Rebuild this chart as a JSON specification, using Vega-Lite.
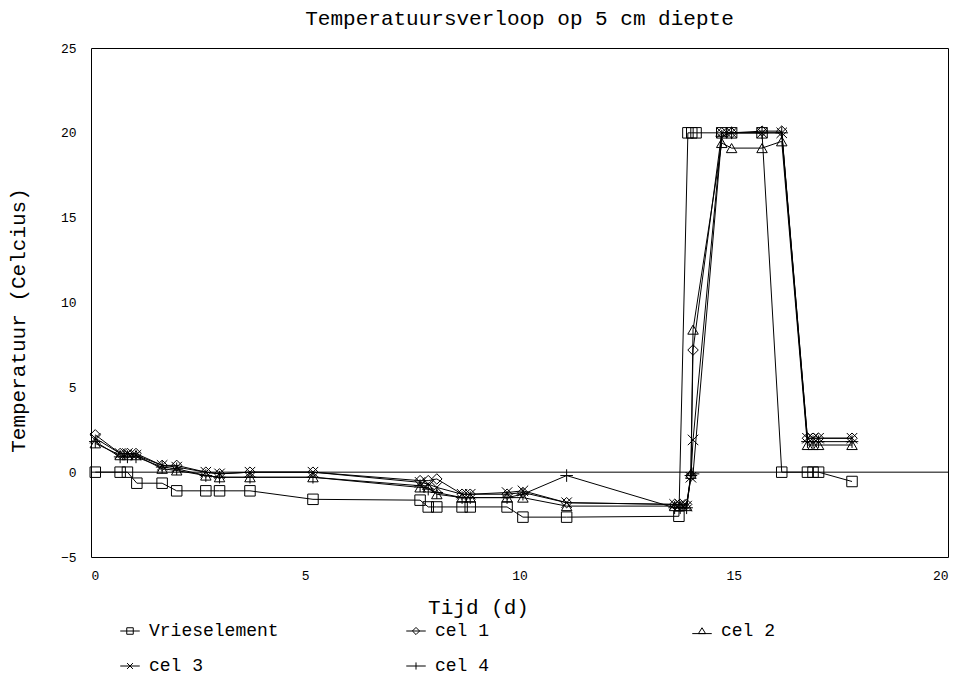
{
  "$schema": "https://vega.github.io/schema/vega-lite/v6.json",
  "width": 857,
  "height": 509,
  "autosize": {"type": "none"},
  "padding": {"left": 91, "top": 48, "right": 12, "bottom": 133},
  "background": "white",
  "title": {"text": "Temperatuursverloop op 5 cm diepte", "font": "Liberation Mono", "fontSize": 21, "fontWeight": "normal", "color": "black", "anchor": "middle", "offset": 13},
  "config": {
    "view": {"stroke": "black", "strokeWidth": 1},
    "axis": {"grid": false, "domain": false, "labelFont": "Liberation Mono", "labelFontSize": 13, "labelColor": "black", "titleFont": "Liberation Mono", "titleFontSize": 21, "titleFontWeight": "normal", "titleColor": "black", "tickColor": "black"}
  },
  "resolve": {"scale": {"shape": "independent"}, "legend": {"shape": "independent"}},
  "datasets": {
    "temps": [
      {"t": 0.1, "T": 0, "s": "Vrieselement"},
      {"t": 0.68, "T": 0, "s": "Vrieselement"},
      {"t": 0.85, "T": 0, "s": "Vrieselement"},
      {"t": 1.07, "T": -0.65, "s": "Vrieselement"},
      {"t": 1.66, "T": -0.65, "s": "Vrieselement"},
      {"t": 2.0, "T": -1.1, "s": "Vrieselement"},
      {"t": 2.68, "T": -1.1, "s": "Vrieselement"},
      {"t": 3.0, "T": -1.1, "s": "Vrieselement"},
      {"t": 3.71, "T": -1.1, "s": "Vrieselement"},
      {"t": 5.18, "T": -1.6, "s": "Vrieselement"},
      {"t": 7.68, "T": -1.65, "s": "Vrieselement"},
      {"t": 7.87, "T": -2.05, "s": "Vrieselement"},
      {"t": 8.07, "T": -2.05, "s": "Vrieselement"},
      {"t": 8.66, "T": -2.05, "s": "Vrieselement"},
      {"t": 8.85, "T": -2.05, "s": "Vrieselement"},
      {"t": 9.71, "T": -2.05, "s": "Vrieselement"},
      {"t": 10.08, "T": -2.65, "s": "Vrieselement"},
      {"t": 11.1, "T": -2.65, "s": "Vrieselement"},
      {"t": 13.72, "T": -2.6, "s": "Vrieselement"},
      {"t": 13.93, "T": 20, "s": "Vrieselement"},
      {"t": 14.02, "T": 20, "s": "Vrieselement"},
      {"t": 14.12, "T": 20, "s": "Vrieselement"},
      {"t": 14.72, "T": 20, "s": "Vrieselement"},
      {"t": 14.95, "T": 20, "s": "Vrieselement"},
      {"t": 15.66, "T": 20, "s": "Vrieselement"},
      {"t": 16.12, "T": 0, "s": "Vrieselement"},
      {"t": 16.72, "T": 0, "s": "Vrieselement"},
      {"t": 16.85, "T": 0, "s": "Vrieselement"},
      {"t": 16.98, "T": 0, "s": "Vrieselement"},
      {"t": 17.76, "T": -0.55, "s": "Vrieselement"},

      {"t": 0.1, "T": 2.2, "s": "cel 1"},
      {"t": 0.68, "T": 1.1, "s": "cel 1"},
      {"t": 0.85, "T": 1.1, "s": "cel 1"},
      {"t": 1.05, "T": 1.1, "s": "cel 1"},
      {"t": 1.66, "T": 0.4, "s": "cel 1"},
      {"t": 2.0, "T": 0.4, "s": "cel 1"},
      {"t": 2.68, "T": 0.0, "s": "cel 1"},
      {"t": 3.0, "T": -0.1, "s": "cel 1"},
      {"t": 3.71, "T": 0.0, "s": "cel 1"},
      {"t": 5.18, "T": 0.0, "s": "cel 1"},
      {"t": 7.68, "T": -0.5, "s": "cel 1"},
      {"t": 7.87, "T": -0.5, "s": "cel 1"},
      {"t": 8.07, "T": -0.4, "s": "cel 1"},
      {"t": 8.66, "T": -1.3, "s": "cel 1"},
      {"t": 8.85, "T": -1.3, "s": "cel 1"},
      {"t": 9.71, "T": -1.3, "s": "cel 1"},
      {"t": 10.08, "T": -1.2, "s": "cel 1"},
      {"t": 11.1, "T": -1.8, "s": "cel 1"},
      {"t": 13.62, "T": -1.9, "s": "cel 1"},
      {"t": 13.75, "T": -1.9, "s": "cel 1"},
      {"t": 13.9, "T": -1.9, "s": "cel 1"},
      {"t": 14.0, "T": -0.2, "s": "cel 1"},
      {"t": 14.05, "T": 7.2, "s": "cel 1"},
      {"t": 14.72, "T": 20.0, "s": "cel 1"},
      {"t": 14.95, "T": 20.0, "s": "cel 1"},
      {"t": 15.66, "T": 20.1, "s": "cel 1"},
      {"t": 16.12, "T": 20.1, "s": "cel 1"},
      {"t": 16.72, "T": 2.0, "s": "cel 1"},
      {"t": 16.85, "T": 2.0, "s": "cel 1"},
      {"t": 16.98, "T": 2.0, "s": "cel 1"},
      {"t": 17.76, "T": 2.0, "s": "cel 1"},

      {"t": 0.1, "T": 1.7, "s": "cel 2"},
      {"t": 0.68, "T": 1.0, "s": "cel 2"},
      {"t": 0.85, "T": 1.0, "s": "cel 2"},
      {"t": 1.05, "T": 1.0, "s": "cel 2"},
      {"t": 1.66, "T": 0.2, "s": "cel 2"},
      {"t": 2.0, "T": 0.1, "s": "cel 2"},
      {"t": 2.68, "T": -0.2, "s": "cel 2"},
      {"t": 3.0, "T": -0.3, "s": "cel 2"},
      {"t": 3.71, "T": -0.3, "s": "cel 2"},
      {"t": 5.18, "T": -0.3, "s": "cel 2"},
      {"t": 7.68, "T": -0.9, "s": "cel 2"},
      {"t": 7.87, "T": -0.9, "s": "cel 2"},
      {"t": 8.07, "T": -1.3, "s": "cel 2"},
      {"t": 8.66, "T": -1.5, "s": "cel 2"},
      {"t": 8.85, "T": -1.5, "s": "cel 2"},
      {"t": 9.71, "T": -1.5, "s": "cel 2"},
      {"t": 10.08, "T": -1.5, "s": "cel 2"},
      {"t": 11.1, "T": -2.0, "s": "cel 2"},
      {"t": 13.62, "T": -2.0, "s": "cel 2"},
      {"t": 13.75, "T": -2.0, "s": "cel 2"},
      {"t": 13.9, "T": -2.0, "s": "cel 2"},
      {"t": 14.0, "T": -0.1, "s": "cel 2"},
      {"t": 14.05, "T": 8.4, "s": "cel 2"},
      {"t": 14.72, "T": 19.4, "s": "cel 2"},
      {"t": 14.95, "T": 19.1, "s": "cel 2"},
      {"t": 15.66, "T": 19.1, "s": "cel 2"},
      {"t": 16.12, "T": 19.5, "s": "cel 2"},
      {"t": 16.72, "T": 1.6, "s": "cel 2"},
      {"t": 16.85, "T": 1.6, "s": "cel 2"},
      {"t": 16.98, "T": 1.6, "s": "cel 2"},
      {"t": 17.76, "T": 1.6, "s": "cel 2"},

      {"t": 0.1, "T": 2.0, "s": "cel 3"},
      {"t": 0.68, "T": 1.1, "s": "cel 3"},
      {"t": 0.85, "T": 1.1, "s": "cel 3"},
      {"t": 1.05, "T": 1.0, "s": "cel 3"},
      {"t": 1.66, "T": 0.4, "s": "cel 3"},
      {"t": 2.0, "T": 0.3, "s": "cel 3"},
      {"t": 2.68, "T": 0.0, "s": "cel 3"},
      {"t": 3.0, "T": -0.1, "s": "cel 3"},
      {"t": 3.71, "T": 0.0, "s": "cel 3"},
      {"t": 5.18, "T": 0.0, "s": "cel 3"},
      {"t": 7.68, "T": -0.6, "s": "cel 3"},
      {"t": 7.87, "T": -0.7, "s": "cel 3"},
      {"t": 8.07, "T": -0.9, "s": "cel 3"},
      {"t": 8.66, "T": -1.3, "s": "cel 3"},
      {"t": 8.85, "T": -1.3, "s": "cel 3"},
      {"t": 9.71, "T": -1.2, "s": "cel 3"},
      {"t": 10.08, "T": -1.1, "s": "cel 3"},
      {"t": 11.1, "T": -1.8, "s": "cel 3"},
      {"t": 13.62, "T": -1.9, "s": "cel 3"},
      {"t": 13.75, "T": -1.9, "s": "cel 3"},
      {"t": 13.9, "T": -2.0, "s": "cel 3"},
      {"t": 14.0, "T": -0.3, "s": "cel 3"},
      {"t": 14.05, "T": 1.9, "s": "cel 3"},
      {"t": 14.72, "T": 20.0, "s": "cel 3"},
      {"t": 14.95, "T": 20.0, "s": "cel 3"},
      {"t": 15.66, "T": 20.0, "s": "cel 3"},
      {"t": 16.12, "T": 20.0, "s": "cel 3"},
      {"t": 16.72, "T": 2.0, "s": "cel 3"},
      {"t": 16.85, "T": 2.0, "s": "cel 3"},
      {"t": 16.98, "T": 2.0, "s": "cel 3"},
      {"t": 17.76, "T": 2.0, "s": "cel 3"},

      {"t": 0.1, "T": 1.8, "s": "cel 4"},
      {"t": 0.68, "T": 0.9, "s": "cel 4"},
      {"t": 0.85, "T": 0.9, "s": "cel 4"},
      {"t": 1.05, "T": 0.9, "s": "cel 4"},
      {"t": 1.66, "T": 0.3, "s": "cel 4"},
      {"t": 2.0, "T": 0.2, "s": "cel 4"},
      {"t": 2.68, "T": -0.2, "s": "cel 4"},
      {"t": 3.0, "T": -0.3, "s": "cel 4"},
      {"t": 3.71, "T": -0.3, "s": "cel 4"},
      {"t": 5.18, "T": -0.3, "s": "cel 4"},
      {"t": 7.68, "T": -0.8, "s": "cel 4"},
      {"t": 7.87, "T": -1.0, "s": "cel 4"},
      {"t": 8.07, "T": -1.2, "s": "cel 4"},
      {"t": 8.66, "T": -1.5, "s": "cel 4"},
      {"t": 8.85, "T": -1.5, "s": "cel 4"},
      {"t": 9.71, "T": -1.5, "s": "cel 4"},
      {"t": 10.08, "T": -1.3, "s": "cel 4"},
      {"t": 11.1, "T": -0.2, "s": "cel 4"},
      {"t": 13.62, "T": -2.1, "s": "cel 4"},
      {"t": 13.75, "T": -2.1, "s": "cel 4"},
      {"t": 13.9, "T": -2.1, "s": "cel 4"},
      {"t": 14.0, "T": -0.2, "s": "cel 4"},
      {"t": 14.05, "T": -0.1, "s": "cel 4"},
      {"t": 14.72, "T": 19.8, "s": "cel 4"},
      {"t": 14.95, "T": 20.0, "s": "cel 4"},
      {"t": 15.66, "T": 20.0, "s": "cel 4"},
      {"t": 16.12, "T": 20.0, "s": "cel 4"},
      {"t": 16.72, "T": 1.8, "s": "cel 4"},
      {"t": 16.85, "T": 1.8, "s": "cel 4"},
      {"t": 16.98, "T": 1.8, "s": "cel 4"},
      {"t": 17.76, "T": 1.8, "s": "cel 4"}
    ]
  },
  "layer": [
    {
      "data": {"values": [{"zero": 0}]},
      "mark": {"type": "rule", "color": "black", "strokeWidth": 1},
      "encoding": {"y": {"field": "zero", "type": "quantitative", "scale": {"domain": [-5, 25], "nice": false, "zero": false}}}
    },
    {
      "data": {"name": "temps"},
      "mark": {"type": "line", "color": "black", "strokeWidth": 1},
      "encoding": {
        "x": {"field": "t", "type": "quantitative", "scale": {"domain": [0, 20], "nice": false}, "axis": {"title": "Tijd (d)", "values": [0, 5, 10, 15, 20], "tickSize": 0, "labelPadding": 12, "titlePadding": 14, "titleX": 387}},
        "y": {"field": "T", "type": "quantitative", "scale": {"domain": [-5, 25], "nice": false, "zero": false}, "axis": {"title": "Temperatuur (Celcius)", "values": [-5, 0, 5, 10, 15, 20, 25], "tickSize": 0, "labelPadding": 15, "titlePadding": 32, "titleY": 272}},
        "detail": {"field": "s"}
      }
    },
    {
      "data": {"name": "temps"},
      "mark": {"type": "point", "filled": false, "color": "black", "size": 110, "strokeWidth": 1, "opacity": 1},
      "encoding": {
        "x": {"field": "t", "type": "quantitative"},
        "y": {"field": "T", "type": "quantitative"},
        "shape": {
          "field": "s",
          "type": "nominal",
          "scale": {"domain": ["Vrieselement", "cel 1", "cel 2", "cel 3", "cel 4"], "range": ["square", "diamond", "triangle-up", "M-1,-1L1,1M-1,1L1,-1", "M-1.2,0L1.2,0M0,-1.2L0,1.2"]},
          "legend": null
        }
      }
    },
    {
      "data": {"name": "temps"},
      "mark": {"type": "point", "filled": false, "color": "black", "strokeWidth": 1, "opacity": 0},
      "encoding": {
        "x": {"field": "t", "type": "quantitative"},
        "y": {"field": "T", "type": "quantitative"},
        "shape": {
          "field": "s",
          "type": "nominal",
          "scale": {"domain": ["Vrieselement", "cel 1", "cel 2", "cel 3", "cel 4"], "range": ["M-1.5,0L1.5,0M-0.5,-0.5L0.5,-0.5L0.5,0.5L-0.5,0.5Z", "M-1.5,0L1.5,0M0,-0.55L0.55,0L0,0.55L-0.55,0Z", "M-1.5,0.4L1.5,0.4M0,-0.5L0.55,0.4L-0.55,0.4Z", "M-1.5,0L1.5,0M-0.45,-0.45L0.45,0.45M-0.45,0.45L0.45,-0.45", "M-1.5,0L1.5,0M0,-0.55L0,0.55"]},
          "legend": {
            "title": null,
            "orient": "none",
            "legendX": 30,
            "legendY": 574,
            "direction": "horizontal",
            "columns": 3,
            "gridAlign": "all",
            "columnPadding": 125,
            "rowPadding": 17,
            "labelFont": "Liberation Mono",
            "labelFontSize": 18,
            "labelColor": "black",
            "labelOffset": 10,
            "symbolSize": 169,
            "symbolOpacity": 1,
            "symbolStrokeWidth": 1,
            "symbolStrokeColor": "black"
          }
        }
      }
    }
  ]
}
